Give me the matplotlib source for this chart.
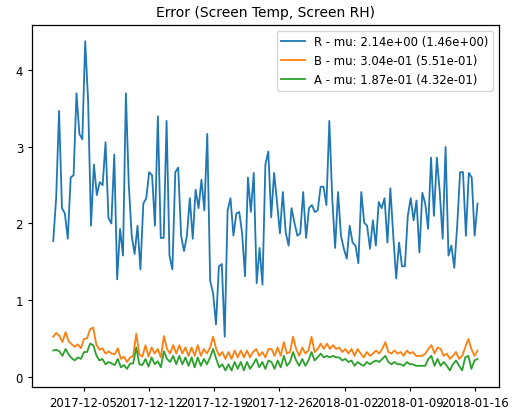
import pandas as pd
import matplotlib
matplotlib.use("Agg")
import matplotlib.pyplot as plt
import matplotlib.dates as mdates

plt.rcParams["font.size"] = 8.4
plt.rcParams["axes.titlesize"] = 10
plt.rcParams["lines.linewidth"] = 1.3
plt.rcParams["xtick.major.size"] = 3.0
plt.rcParams["ytick.major.size"] = 3.0
plt.rcParams["axes.linewidth"] = 0.9

# time span of the series
start = "2017-12-01 18:00"
end = "2018-01-16 06:00"

# R error (blue)
r_err = [
    1.77, 2.33, 3.47, 2.2, 2.13, 1.8, 2.6, 2.63, 3.7, 3.17, 3.1, 4.38, 3.6, 1.97, 2.77, 2.37,
    2.54, 2.5, 3.06, 2.07, 2.0, 2.9, 1.27, 1.93, 1.58, 3.7, 2.5, 1.84, 1.6, 1.97, 1.4, 2.26,
    2.33, 2.67,
    2.63, 1.97, 3.4, 1.81, 1.81, 3.34, 1.58, 1.4, 2.67, 2.73, 1.84, 1.64, 1.84, 2.33, 1.8, 2.44,
    2.2, 2.57, 2.17, 3.17, 1.25, 1.09, 0.68, 1.44, 1.47, 0.52, 2.17, 2.33, 1.84, 2.13, 2.15, 1.87,
    1.31, 2.6, 2.15, 2.66, 1.22, 1.68, 1.2,
    2.77, 2.94, 2.08, 2.66, 2.28, 1.87, 2.41, 1.88, 1.71, 2.2, 2.01, 1.84, 1.87, 2.41, 1.81, 2.2,
    2.24, 2.15, 2.17, 2.48, 2.48, 2.24, 3.34, 2.33, 1.68, 2.41, 1.84, 1.67, 1.54, 1.97, 1.75, 1.71,
    1.48, 2.41, 2.01, 1.97, 1.67, 2.04,
    1.71, 2.28, 2.2, 2.33, 1.75, 2.46, 1.84, 1.28, 1.75, 1.44, 1.44, 2.1, 2.33, 2.04, 2.3, 1.62,
    2.4, 2.26, 1.93, 2.86, 2.1, 2.86, 2.41, 1.8, 3.0, 1.58, 1.71, 1.42, 1.97, 2.67, 2.67, 1.84,
    2.66, 2.6, 1.84, 2.26,
]

# B error (orange)
b_err = [
    0.52, 0.57, 0.53, 0.45, 0.58, 0.46, 0.42, 0.39, 0.42, 0.37, 0.49, 0.50, 0.62, 0.64, 0.42, 0.35,
    0.37, 0.30, 0.33, 0.30, 0.29, 0.37, 0.23, 0.26, 0.19, 0.25, 0.27, 0.56, 0.29, 0.26, 0.41, 0.26,
    0.38, 0.30, 0.36, 0.25, 0.53,
    0.36, 0.30, 0.41, 0.30, 0.41, 0.30, 0.38, 0.27, 0.38, 0.27, 0.41, 0.27, 0.36, 0.30, 0.38, 0.52,
    0.36, 0.27, 0.32, 0.23, 0.32, 0.23, 0.34, 0.25, 0.34, 0.25, 0.34, 0.25, 0.32, 0.36, 0.27, 0.32,
    0.25, 0.36,
    0.36, 0.27, 0.38, 0.27, 0.45, 0.30, 0.32, 0.52, 0.36, 0.27, 0.38, 0.30, 0.34, 0.52, 0.32, 0.36,
    0.43, 0.36, 0.43, 0.36, 0.41, 0.36, 0.38, 0.32, 0.36, 0.30, 0.36, 0.27, 0.36, 0.30, 0.25, 0.32,
    0.27, 0.30, 0.34, 0.30,
    0.36, 0.45, 0.32, 0.30, 0.34, 0.30, 0.32, 0.27, 0.34, 0.30, 0.32, 0.27, 0.27, 0.27, 0.30, 0.36,
    0.41, 0.30, 0.38, 0.36, 0.27, 0.30, 0.23, 0.27, 0.32, 0.23, 0.27, 0.38, 0.49, 0.36, 0.27, 0.34,
]

# A error (green)
a_err = [
    0.34, 0.35, 0.33, 0.27, 0.36, 0.29, 0.24, 0.21, 0.25, 0.23, 0.32, 0.32, 0.43, 0.41, 0.28, 0.21,
    0.23, 0.16, 0.19, 0.17, 0.15, 0.23, 0.12, 0.15, 0.10, 0.17, 0.17, 0.38, 0.16, 0.15, 0.23, 0.13,
    0.25, 0.16, 0.20, 0.12, 0.33,
    0.23, 0.19, 0.27, 0.16, 0.27, 0.16, 0.25, 0.14, 0.25, 0.12, 0.25, 0.14, 0.23, 0.16, 0.25, 0.36,
    0.23, 0.12, 0.16, 0.08, 0.16, 0.08, 0.19, 0.10, 0.19, 0.08, 0.19, 0.10, 0.16, 0.23, 0.12, 0.19,
    0.10, 0.21,
    0.19, 0.10, 0.21, 0.12, 0.27, 0.14, 0.19, 0.32, 0.21, 0.14, 0.23, 0.14, 0.21, 0.32, 0.21, 0.25,
    0.30, 0.25, 0.27, 0.25, 0.27, 0.25, 0.25, 0.21, 0.23, 0.19, 0.21, 0.14, 0.19, 0.16, 0.14, 0.19,
    0.16, 0.19, 0.21, 0.19,
    0.23, 0.27, 0.19, 0.16, 0.19, 0.16, 0.16, 0.14, 0.19, 0.16, 0.16, 0.14, 0.14, 0.14, 0.14, 0.23,
    0.27, 0.14, 0.23, 0.14, 0.19, 0.14, 0.08, 0.16, 0.21, 0.14, 0.08, 0.25, 0.27, 0.10, 0.21, 0.23,
]

labels = [
    "R - mu: 2.14e+00 (1.46e+00)",
    "B - mu: 3.04e-01 (5.51e-01)",
    "A - mu: 1.87e-01 (4.32e-01)",
]

t_r = pd.date_range(start, end, periods=len(r_err))
t_ba = pd.date_range(start, end, periods=len(b_err))

fig, ax = plt.subplots(figsize=(5.25, 4.1), dpi=100)
fig.subplots_adjust(left=0.061, right=0.95, bottom=0.054, top=0.937)

ax.plot(t_r, r_err, label=labels[0])
ax.plot(t_ba, b_err, label=labels[1])
ax.plot(t_ba, a_err, label=labels[2])

ax.set_title("Error (Screen Temp, Screen RH)")
ax.xaxis.set_major_locator(mdates.WeekdayLocator(byweekday=mdates.TU))
ax.xaxis.set_major_formatter(mdates.DateFormatter("%Y-%m-%d"))
ax.legend(loc="upper right")

fig.savefig("out.png")
